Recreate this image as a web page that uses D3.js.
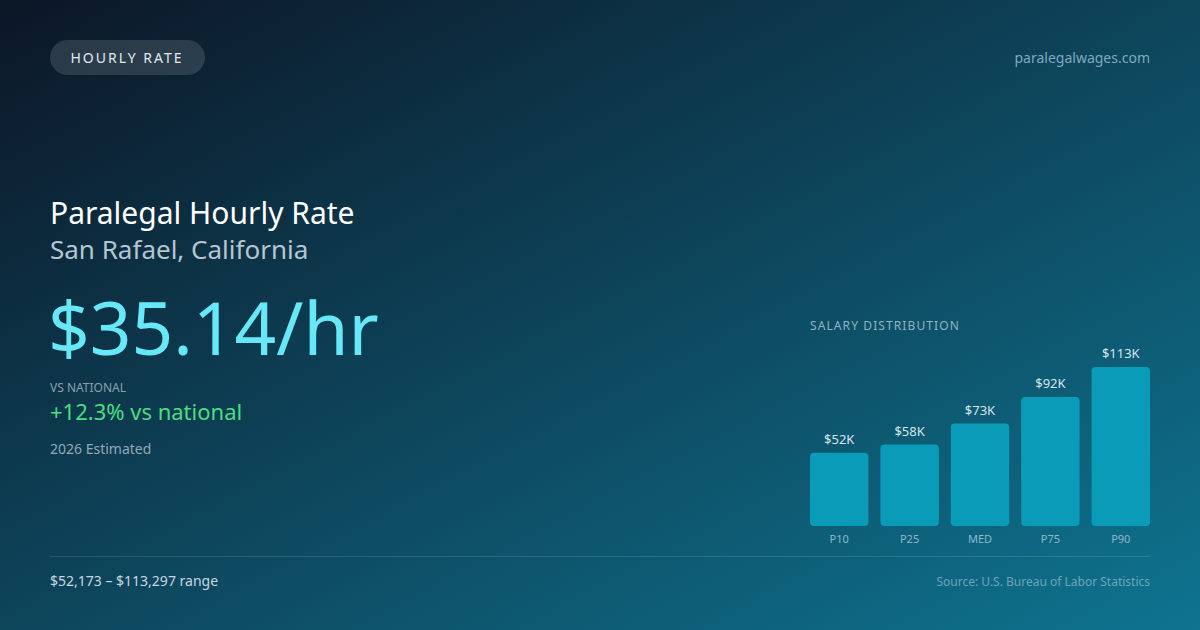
<!DOCTYPE html>
<html><head><meta charset="utf-8">
<script src="https://cdn.jsdelivr.net/npm/d3@7"></script>
<style>html,body{margin:0;padding:0;background:#0f172a;}svg{display:block;font-family:"Noto Sans","Open Sans",sans-serif;}</style>
</head><body>
<svg id="c" width="1200" height="630"></svg>
<script>
const categories = ["P10", "P25", "MED", "P75", "P90"];
const salaries = [52173, 58000, 73000, 92000, 113297];
const barLabels = ["$52K", "$58K", "$73K", "$92K", "$113K"];

const svg = d3.select("#c");
const defs = svg.append("defs");
const g = defs.append("linearGradient").attr("id","bg").attr("x1","0").attr("y1","0").attr("x2","1").attr("y2","1");
g.append("stop").attr("offset","0%").attr("stop-color","#0c1626");
g.append("stop").attr("offset","100%").attr("stop-color","#0e7490");
svg.append("rect").attr("width",1200).attr("height",630).attr("fill","url(#bg)");

// pill
svg.append("rect").attr("x",50).attr("y",40).attr("width",155).attr("height",35).attr("rx",17.5)
  .attr("fill","rgba(255,255,255,0.13)");
svg.append("text").attr("x",127).attr("y",62.5).attr("text-anchor","middle")
  .attr("font-size",14).attr("letter-spacing",2).attr("fill","#e2e8f0").text("HOURLY RATE");
svg.append("text").attr("x",1150).attr("y",63).attr("text-anchor","end")
  .attr("font-size",14).attr("fill","#7fa9bf").text("paralegalwages.com");

svg.append("text").attr("x",50).attr("y",224).attr("font-size",30).attr("fill","#ffffff").text("Paralegal Hourly Rate");
svg.append("text").attr("x",50).attr("y",259).attr("font-size",26).attr("fill","#b4c6d2").text("San Rafael, California");
svg.append("text").attr("x",48).attr("y",355).attr("font-size",73).attr("fill","#67e8f9").text("$35.14/hr");
svg.append("text").attr("x",50).attr("y",392).attr("font-size",12).attr("fill","#8aa0b2").text("VS NATIONAL");
svg.append("text").attr("x",50).attr("y",420).attr("font-size",22).attr("fill","#4ade80").text("+12.3% vs national");
svg.append("text").attr("x",50).attr("y",454).attr("font-size",14).attr("fill","#94a8b8").text("2026 Estimated");

// chart
svg.append("text").attr("x",810).attr("y",330).attr("font-size",12).attr("letter-spacing",1.1)
  .attr("fill","#8fb3c4").text("SALARY DISTRIBUTION");
const x = d3.scaleBand().domain(categories).range([810,1150]).paddingInner(0.17).paddingOuter(0);
const y = d3.scaleLinear().domain([0, d3.max(salaries)]).range([526, 367]);
const data = categories.map((c,i)=>({c, v:salaries[i], l:barLabels[i]}));
svg.selectAll("rect.bar").data(data).join("rect").attr("class","bar")
  .attr("x",d=>x(d.c)).attr("y",d=>y(d.v)).attr("width",x.bandwidth()).attr("height",d=>526-y(d.v))
  .attr("rx",4).attr("fill","#0a9bb9");
svg.selectAll("text.bl").data(data).join("text").attr("class","bl")
  .attr("x",d=>x(d.c)+x.bandwidth()/2).attr("y",d=>y(d.v)-9).attr("text-anchor","middle")
  .attr("font-size",13).attr("fill","#d6e4ec").text(d=>d.l);
svg.selectAll("text.cl").data(data).join("text").attr("class","cl")
  .attr("x",d=>x(d.c)+x.bandwidth()/2).attr("y",543).attr("text-anchor","middle")
  .attr("font-size",11).attr("fill","#8fb8c8").text(d=>d.c);

svg.append("line").attr("x1",50).attr("x2",1150).attr("y1",556.5).attr("y2",556.5)
  .attr("stroke","rgba(255,255,255,0.12)").attr("stroke-width",1);
svg.append("text").attr("x",50).attr("y",586).attr("font-size",14).attr("fill","#c8d6e0").text("$52,173 – $113,297 range");
svg.append("text").attr("x",1150).attr("y",586).attr("text-anchor","end").attr("font-size",12).attr("fill","#6fa3b8").text("Source: U.S. Bureau of Labor Statistics");
</script>
</body></html>
